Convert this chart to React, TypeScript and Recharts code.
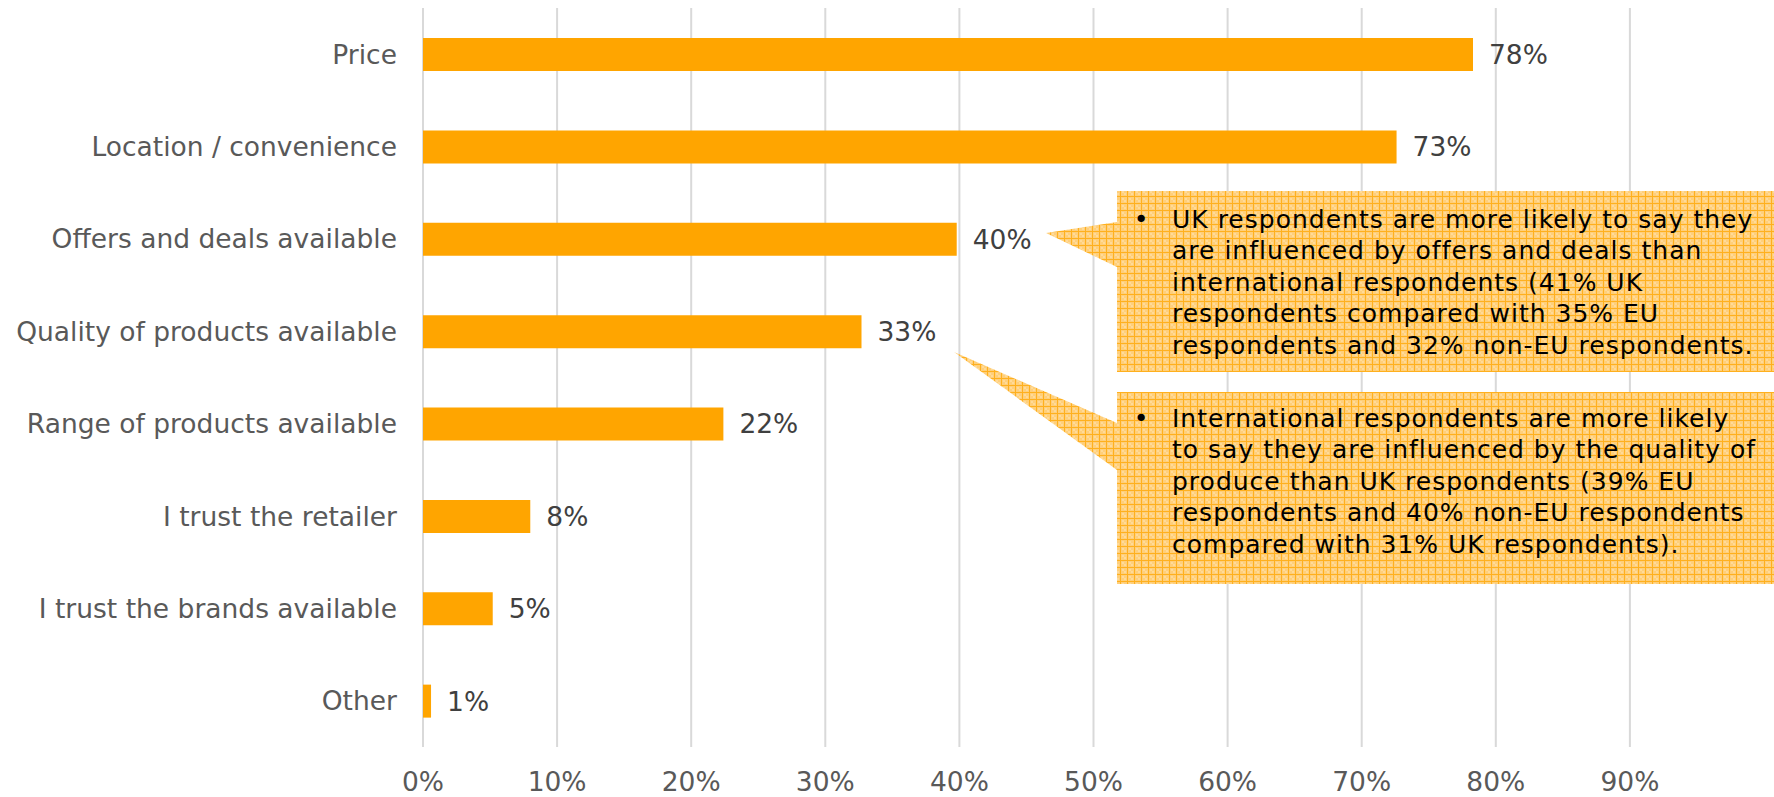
import {
  BarChart,
  Bar,
  XAxis,
  YAxis,
  CartesianGrid,
  LabelList,
  Customized,
} from "recharts";

// categories (top to bottom)
const categories = [
  "Price",
  "Location / convenience",
  "Offers and deals available",
  "Quality of products available",
  "Range of products available",
  "I trust the retailer",
  "I trust the brands available",
  "Other",
];

// share of respondents
const shares = [0.783, 0.726, 0.398, 0.327, 0.224, 0.08, 0.052, 0.006];

// printed labels next to the bars
const valueLabels = ["78%", "73%", "40%", "33%", "22%", "8%", "5%", "1%"];

const xTicks = [0, 0.1, 0.2, 0.3, 0.4, 0.5, 0.6, 0.7, 0.8, 0.9];

const noteOffers = [
  "UK respondents are more likely to say they",
  "are influenced by offers and deals than",
  "international respondents (41% UK",
  "respondents compared with 35% EU",
  "respondents and 32% non-EU respondents.",
];

const noteQuality = [
  "International respondents are more likely",
  "to say they are influenced by the quality of",
  "produce than UK respondents (39% EU",
  "respondents and 40% non-EU respondents",
  "compared with 31% UK respondents).",
];

const data = categories.map((name, i) => ({
  name,
  share: shares[i],
  label: valueLabels[i],
}));

const FONT = "DejaVu Sans";

const CategoryTick = ({ x, y, payload }: any) => (
  <text
    x={x - 26}
    y={y}
    textAnchor="end"
    dominantBaseline="central"
    fontFamily={FONT}
    fontSize={26.5}
    fill="#595959"
  >
    {payload.value}
  </text>
);

const PercentTick = ({ x, y, payload }: any) => (
  <text
    x={x}
    y={y + 44}
    textAnchor="middle"
    fontFamily={FONT}
    fontSize={26.5}
    fill="#595959"
  >
    {Math.round(payload.value * 100) + "%"}
  </text>
);

// grid lines only at the labelled ticks (no line at the 100% edge)
const gridX = ({ xAxis, offset }: any) =>
  xTicks.map((t) =>
    xAxis && typeof xAxis.scale === "function"
      ? xAxis.scale(t)
      : offset.left + t * offset.width
  );

// callout boxes with pointers
const Callouts = () => {
  const renderLines = (lines: string[], firstBaseline: number) => (
    <g fontFamily={FONT} fontSize={25} fill="#000" letterSpacing={1}>
      <text x={1141} y={firstBaseline} textAnchor="middle" letterSpacing={0}>
        •
      </text>
      {lines.map((t, i) => (
        <text key={i} x={1172} y={firstBaseline + i * 31.6}>
          {t}
        </text>
      ))}
    </g>
  );
  return (
    <g>
      <defs>
        <pattern id="smallgrid" width="7" height="7" patternUnits="userSpaceOnUse">
          <rect width="7" height="7" fill="#FFCF7A" />
          <rect x="2" y="2" width="2" height="2" fill="#FFDA98" />
          <rect x="4" y="4" width="2" height="2" fill="#FFDA98" />
          <rect width="7" height="1" fill="#FFB01E" />
          <rect width="1" height="7" fill="#FFB01E" />
        </pattern>
      </defs>
      <polygon
        points="1117,191 1774,191 1774,372 1117,372 1117,267 1046,233 1117,222"
        fill="url(#smallgrid)"
      />
      <polygon
        points="1117,392 1774,392 1774,584 1117,584 1117,470 954,352 1117,423"
        fill="url(#smallgrid)"
      />
      {renderLines(noteOffers, 227.5)}
      {renderLines(noteQuality, 426.5)}
    </g>
  );
};

export default function App() {
  return (
    <div style={{ position: "absolute", left: 0, top: 0, background: "#fff" }}>
      <BarChart
        width={1774}
        height={797}
        data={data}
        layout="vertical"
        margin={{ top: 8, right: 10, bottom: 0, left: 0 }}
      >
        <CartesianGrid
          horizontal={false}
          stroke="#D9D9D9"
          strokeWidth={2}
          verticalCoordinatesGenerator={gridX}
        />
        <XAxis
          type="number"
          domain={[0, 1]}
          ticks={xTicks}
          axisLine={false}
          tickLine={false}
          tickSize={0}
          tickMargin={0}
          height={50}
          tick={<PercentTick />}
          interval={0}
        />
        <YAxis
          type="category"
          dataKey="name"
          width={423}
          axisLine={false}
          tickLine={false}
          tickSize={0}
          tickMargin={0}
          tick={<CategoryTick />}
          interval={0}
        />
        <Bar dataKey="share" fill="#FFA500" barSize={33} isAnimationActive={false}>
          <LabelList
            dataKey="label"
            position="right"
            offset={16}
            fontFamily={FONT}
            fontSize={26.5}
            fill="#404040"
          />
        </Bar>
        <Customized component={Callouts} />
      </BarChart>
    </div>
  );
}
